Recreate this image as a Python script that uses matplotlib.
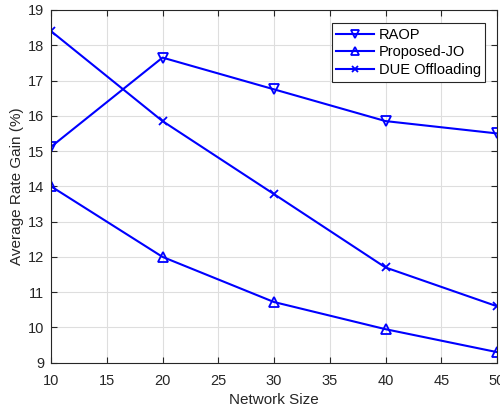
import matplotlib
matplotlib.use("Agg")
import matplotlib.pyplot as plt

network_size = [10, 20, 30, 40, 50]
raop = [15.12, 17.65, 16.75, 15.85, 15.5]
proposed_jo = [14.0, 12.0, 10.72, 9.95, 9.3]
due_offloading = [18.4, 15.85, 13.78, 11.7, 10.6]

plt.rcParams['font.family'] = ['Liberation Sans', 'DejaVu Sans']

fig = plt.figure(figsize=(5.0, 4.09), dpi=100)
ax = fig.add_axes([0.102, 0.1132, 0.892, 0.8624])

blue = (0, 0, 1)
ax.plot(network_size, raop, color=blue, lw=1.5, marker='v', ms=7.5, mfc='none', mew=1.3, label='RAOP')
ax.plot(network_size, proposed_jo, color=blue, lw=1.5, marker='^', ms=7.5, mfc='none', mew=1.3, label='Proposed-JO')
ax.plot(network_size, due_offloading, color=blue, lw=1.5, marker='x', ms=5.5, mew=1.3, label='DUE Offloading')

ax.set_xlim(10, 50)
ax.set_ylim(9, 19)
ax.set_xticks(range(10, 51, 5))
ax.set_yticks(range(9, 20, 1))
ax.grid(True, color=(0.87, 0.87, 0.87), lw=0.8)
ax.set_axisbelow(True)
ax.tick_params(direction='in', top=True, right=True, labelsize=10.5, colors=(0.15, 0.15, 0.15), length=4)
ax.tick_params(axis='x', pad=8)
ax.tick_params(axis='y', pad=5)
for s in ax.spines.values():
    s.set_color((0.15, 0.15, 0.15))
    s.set_linewidth(0.8)
ax.set_xlabel('Network Size', fontsize=11, color=(0.15, 0.15, 0.15), labelpad=4)
ax.set_ylabel('Average Rate Gain (%)', fontsize=11, color=(0.15, 0.15, 0.15), labelpad=3)

leg = ax.legend(loc='upper right', bbox_to_anchor=(0.98, 0.97), fontsize=10.5, fancybox=False,
                framealpha=1, edgecolor=(0.15, 0.15, 0.15), borderpad=0.3, labelspacing=0.25,
                handlelength=2.6, handletextpad=0.3, borderaxespad=0.2, markerscale=0.7)
leg.get_frame().set_linewidth(0.8)

fig.savefig('out.png', dpi=100)
